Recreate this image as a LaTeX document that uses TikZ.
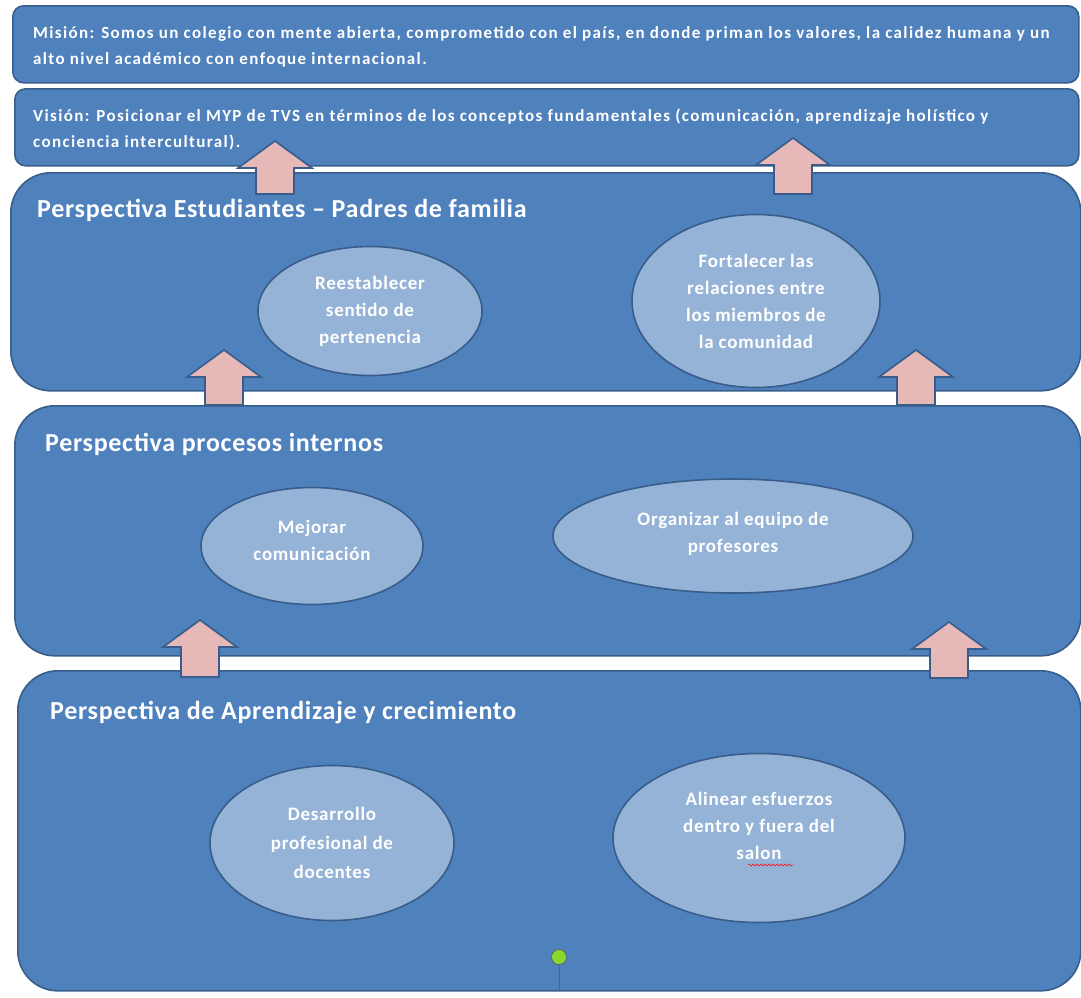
\documentclass[tikz,border=0pt]{standalone}
\usepackage{fontspec}
\setmainfont{Carlito}
\usetikzlibrary{positioning,shapes.geometric,decorations.pathmorphing}

\definecolor{boxblue}{HTML}{4F81BD}
\definecolor{edgeblue}{HTML}{385D8A}
\definecolor{ovalblue}{HTML}{95B3D7}
\definecolor{arrowpink}{HTML}{E6B9B8}
\definecolor{handlegreen}{HTML}{8AD82E}

% block arrow pointing up: centre x, bottom y, tip y
\newcommand{\blockup}[3]{%
  \draw[blockarrow] (#1-19,#2) -- (#1-19,#3+27) -- (#1-37,#3+27) -- (#1,#3)
    -- (#1+37,#3+27) -- (#1+19,#3+27) -- (#1+19,#2) -- cycle;}

\begin{document}
\begin{tikzpicture}[
	x=1pt, y=-1pt,
	banner/.style={draw=edgeblue, fill=boxblue, line width=1.6pt,
		rounded corners=11pt, anchor=north west, inner sep=0pt},
	panel/.style={banner, rounded corners=40pt},
	heading/.style={text=white, anchor=north west, inner sep=0pt,
		font=\bfseries\fontsize{26}{30}\selectfont\addfontfeature{LetterSpace=2.7}},
	blurb/.style={text=white, anchor=north west, inner sep=0pt, align=left,
		font=\bfseries\fontsize{17}{26}\selectfont\addfontfeature{LetterSpace=8}},
	oval/.style={ellipse, draw=edgeblue, fill=ovalblue, line width=1.6pt,
		text=white, align=center, inner sep=0pt,
		font=\bfseries\fontsize{19}{27}\selectfont\addfontfeature{LetterSpace=4}},
	blockarrow/.style={draw=edgeblue, fill=arrowpink, line width=1.6pt}]
\useasboundingbox (0,0) rectangle (1081,997);

% mission and vision
\node[banner, minimum width=1066, minimum height=77] (mision) at (12,5) {};
\node[banner, minimum width=1064, minimum height=77] (vision) at (14,88) {};
\node[blurb, below right=21pt and 21pt of mision.north west] (tmision)
	{Misión: Somos un colegio con mente abierta, comprometido con el país, en donde priman los valores, la calidez humana y un\\
	 alto nivel académico con enfoque internacional.};
\node[blurb, below right=21pt and 19pt of vision.north west] (tvision)
	{Visión: Posicionar el MYP de TVS en términos de los conceptos fundamentales (comunicación, aprendizaje holístico y\\
	 conciencia intercultural).};

% perspectives
\node[panel, minimum width=1070, minimum height=218] (estud) at (10,172) {};
\node[panel, minimum width=1066, minimum height=250] (procesos) at (14,405) {};
\node[panel, minimum width=1063, minimum height=320] (aprend) at (17,670) {};

\node[heading, below right=27pt and 27pt of estud.north west] (testud)
	{Perspectiva Estudiantes -- Padres de familia};
\node[heading, below right=28pt and 31pt of procesos.north west] (tprocesos)
	{Perspectiva procesos internos};
\node[heading, below right=31pt and 33pt of aprend.north west] (taprend)
	{Perspectiva de Aprendizaje y crecimiento};

% objectives
\node[oval, minimum width=224, minimum height=129] (pertenencia) at (370,311)
	{Reestablecer\\sentido de\\pertenencia};
\node[oval, minimum width=248, minimum height=173] (relaciones) at (756,301)
	{Fortalecer las\\relaciones entre\\los miembros de\\la comunidad};
\node[oval, minimum width=222, minimum height=117] (comunic) at (312,546)
	{Mejorar\\comunicación\\[-15pt]};
\node[oval, minimum width=360, minimum height=114] (equipo) at (733,536)
	{Organizar al equipo de\\profesores\\[-19pt]};
\node[oval, minimum width=244, minimum height=155] (desarrollo) at (332,843)
	{Desarrollo\\[2pt]profesional de\\[2pt]docentes};
\node[oval, minimum width=292, minimum height=169] (alinear) at (759,838)
	{Alinear esfuerzos\\dentro y fuera del\\salon\\[-3pt]};
\draw[red, decorate, decoration={snake, amplitude=1pt, segment length=4pt}]
	(748,865) -- (794,865);

% arrows between the levels
\blockup{275}{194}{141}
\blockup{793}{194}{138}
\blockup{224}{405}{350}
\blockup{916}{405}{350}
\blockup{200}{677}{620}
\blockup{949}{678}{622}

% handle
\draw[edgeblue!70!gray, line width=1pt] (559,957) -- (559,991);
\node[circle, draw=gray!70!black, fill=handlegreen, line width=0.6pt,
	minimum size=15pt, inner sep=0pt] (handle) at (559,957) {};
\end{tikzpicture}
\end{document}
